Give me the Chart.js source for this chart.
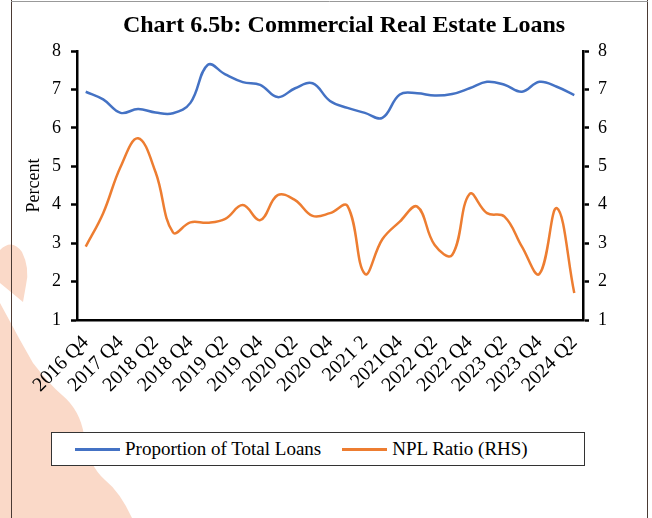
<!DOCTYPE html>
<html>
<head>
<meta charset="utf-8">
<script src="https://cdn.jsdelivr.net/npm/chart.js@4.4.1/dist/chart.umd.min.js"></script>
<style>
  html, body { margin: 0; padding: 0; background: #fff; }
  #wrap { position: relative; width: 652px; height: 518px; }
  #legend {
    position: absolute; left: 51px; top: 432px; width: 534px; height: 34px;
    box-sizing: border-box; border: 1px solid #333; background: #fff;
    display: flex; align-items: center; padding-left: 23px;
    font-family: "Liberation Serif", "Times New Roman", serif; font-size: 19px; color: #000;
  }
  .item { display: flex; align-items: center; margin-right: 21px; }
  .swatch { display: inline-block; width: 45px; height: 3px; margin-right: 5px; }
</style>
</head>
<body>
<div id="wrap">
  <canvas id="creChart" width="652" height="518"></canvas>
  <div id="legend"></div>
</div>
<script>
// quarters on the x axis, only every second one is labelled
const quarters = ['2016 Q4', '2017 Q2', '2017 Q4', '2018 Q1', '2018 Q2', '2018 Q3', '2018 Q4', '2019 Q1',
    '2019 Q2', '2019 Q3', '2019 Q4', '2020 Q1', '2020 Q2', '2020 Q3', '2020 Q4', '2021 Q1', '2021 2',
    '2021 Q3', '2021Q4', '2022 Q1', '2022 Q2', '2022 Q3', '2022 Q4', '2023 Q1', '2023 Q2', '2023 Q3',
    '2023 Q4', '2024 Q1', '2024 Q2'];

const proportionOfTotalLoans = [6.94, 6.74, 6.39, 6.49, 6.40, 6.38, 6.65, 7.64, 7.39, 7.19, 7.12, 6.80, 7.03,
    7.16, 6.70, 6.52, 6.39, 6.26, 6.87, 6.90, 6.84, 6.88, 7.03, 7.20, 7.12, 6.94, 7.20, 7.07, 6.85];

const nplRatio = [2.91, 3.78, 4.99, 5.73, 4.85, 3.28, 3.54, 3.53, 3.63, 3.99, 3.60, 4.25, 4.12,
    3.71, 3.78, 3.97, 2.20, 3.10, 3.56, 3.95, 2.95, 2.69, 4.28, 3.78, 3.69, 2.91, 2.20, 3.91, 1.70];

const axisMin = 1;
const axisMax = 8;

const serif = '"Liberation Serif", "Times New Roman", serif';

// white page, faint watermark and frame lines
const pageDecor = {
    id: 'pageDecor',
    beforeDraw(chart) {
        const ctx = chart.ctx;
        ctx.save();
        ctx.fillStyle = '#fff';
        ctx.fillRect(0, 0, chart.width, chart.height);
        ctx.fillStyle = 'rgb(250, 217, 200)';
        ctx.beginPath();
        ctx.moveTo(0, 250);
        ctx.quadraticCurveTo(12, 238, 22, 252);
        ctx.quadraticCurveTo(30, 268, 26, 285);
        ctx.lineTo(23, 302);
        ctx.lineTo(0, 283);
        ctx.closePath();
        ctx.fill();
        ctx.beginPath();
        ctx.moveTo(0, 303);
        ctx.lineTo(20, 340);
        ctx.lineTo(33, 363);
        ctx.quadraticCurveTo(50, 385, 62, 395);
        ctx.quadraticCurveTo(80, 410, 84, 435);
        ctx.quadraticCurveTo(88, 465, 105, 480);
        ctx.quadraticCurveTo(120, 492, 132, 518);
        ctx.lineTo(0, 518);
        ctx.closePath();
        ctx.fill();
        ctx.strokeStyle = '#4a3a34';
        ctx.lineWidth = 1;
        ctx.beginPath();
        ctx.moveTo(11.5, 0);
        ctx.lineTo(11.5, 518);
        ctx.moveTo(647.5, 0);
        ctx.lineTo(647.5, 518);
        ctx.stroke();
        ctx.strokeStyle = '#999';
        ctx.beginPath();
        ctx.moveTo(11, 1.5);
        ctx.lineTo(648, 1.5);
        ctx.stroke();
        ctx.restore();
    }
};

const chartTitle = {
    id: 'chartTitle',
    afterDraw(chart) {
        const ctx = chart.ctx;
        ctx.save();
        ctx.font = 'bold 24px ' + serif;
        ctx.fillStyle = '#000';
        ctx.textAlign = 'center';
        ctx.textBaseline = 'alphabetic';
        ctx.fillText('Chart 6.5b: Commercial Real Estate Loans', 344, 32);
        ctx.restore();
    }
};

const axisStyle = {
    min: axisMin,
    max: axisMax,
    border: { display: true, color: '#000', width: 2.5 },
    grid: { drawOnChartArea: false, drawTicks: true, tickLength: 6, color: '#000', tickWidth: 2.5 },
};

const ctx = document.getElementById('creChart').getContext('2d');
const chart = new Chart(ctx, {
    type: 'line',
    data: {
        labels: quarters,
        datasets: [{
            label: 'Proportion of Total Loans',
            data: proportionOfTotalLoans,
            borderColor: '#4472C4',
            backgroundColor: '#4472C4',
            borderWidth: 2.5,
            pointRadius: 0,
            tension: 0.4,
            yAxisID: 'y'
        }, {
            label: 'NPL Ratio (RHS)',
            data: nplRatio,
            borderColor: '#ED7D31',
            backgroundColor: '#ED7D31',
            borderWidth: 2.5,
            pointRadius: 0,
            tension: 0.4,
            yAxisID: 'y1'
        }]
    },
    options: {
        responsive: false,
        animation: false,
        devicePixelRatio: 1,
        layout: { padding: { top: 51, left: 19, right: 29, bottom: 98 } },
        plugins: {
            legend: { display: false },
            title: { display: false },
            tooltip: { enabled: false }
        },
        scales: {
            x: {
                offset: true,
                grid: { display: false },
                border: { display: true, color: '#000', width: 2.5 },
                ticks: {
                    autoSkip: false,
                    minRotation: 45,
                    maxRotation: 45,
                    padding: 3,
                    color: '#000',
                    font: { family: serif, size: 20 },
                    callback: function (val, index) {
                        return index % 2 === 0 ? this.getLabelForValue(val) : '';
                    }
                },
                afterFit: function (scale) { scale.height = 100; }
            },
            y: Object.assign({}, axisStyle, {
                position: 'left',
                ticks: { stepSize: 1, padding: 10, color: '#000', font: { family: serif, size: 18 } },
                title: { display: true, text: 'Percent', color: '#000', font: { family: serif, size: 18 } },
                afterFit: function (scale) { scale.width = 58; }
            }),
            y1: Object.assign({}, axisStyle, {
                position: 'right',
                ticks: { stepSize: 1, padding: 9, color: '#000', font: { family: serif, size: 18 } },
                afterFit: function (scale) { scale.width = 40; }
            })
        }
    },
    plugins: [pageDecor, chartTitle]
});

// html legend built from the datasets
const legendEl = document.getElementById('legend');
chart.data.datasets.forEach(ds => {
    const item = document.createElement('span');
    item.className = 'item';
    const swatch = document.createElement('span');
    swatch.className = 'swatch';
    swatch.style.background = ds.borderColor;
    const text = document.createElement('span');
    text.textContent = ds.label;
    item.appendChild(swatch);
    item.appendChild(text);
    legendEl.appendChild(item);
});
</script>
</body>
</html>
